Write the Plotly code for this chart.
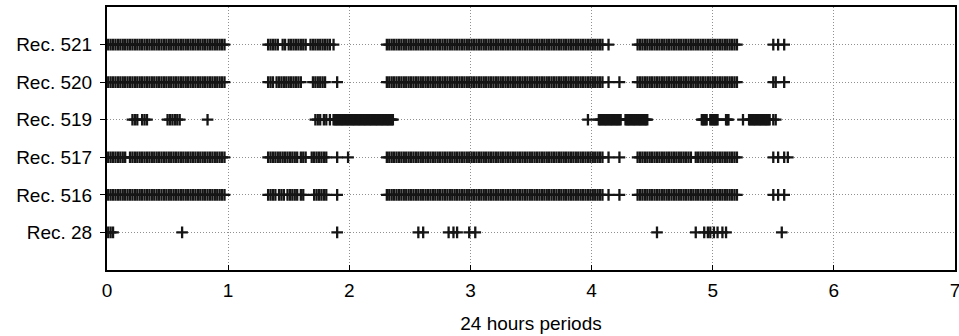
import plotly.graph_objects as go

# ---- categories (bottom to top) ----
rec_labels = ["Rec. 28", "Rec. 516", "Rec. 517", "Rec. 519", "Rec. 520", "Rec. 521"]
x_ticks = [0, 1, 2, 3, 4, 5, 6, 7]

# ---- dense activity blocks (shared by channels 516/520/521) ----
block_day0 = [0.01, 0.03, 0.05, 0.07, 0.09, 0.11, 0.13, 0.15, 0.17, 0.19, 0.21, 0.23, 0.25, 0.27,
              0.29, 0.31, 0.33, 0.35, 0.37, 0.39, 0.41, 0.43, 0.45, 0.47, 0.49, 0.51, 0.53, 0.55,
              0.57, 0.59, 0.61, 0.63, 0.65, 0.67, 0.69, 0.71, 0.73, 0.75, 0.77, 0.79, 0.81, 0.83,
              0.85, 0.87, 0.89, 0.91, 0.93, 0.95, 0.97]
block_day2 = [2.31, 2.33, 2.35, 2.37, 2.39, 2.41, 2.43, 2.45, 2.47, 2.49, 2.51, 2.53, 2.55, 2.57,
              2.59, 2.61, 2.63, 2.65, 2.67, 2.69, 2.71, 2.73, 2.75, 2.77, 2.79, 2.81, 2.83, 2.85,
              2.87, 2.89, 2.91, 2.93, 2.95, 2.97, 2.99, 3.01, 3.03, 3.05, 3.07, 3.09, 3.11, 3.13,
              3.15, 3.17, 3.19, 3.21, 3.23, 3.25, 3.27, 3.29, 3.31, 3.33, 3.35, 3.37, 3.39, 3.41,
              3.43, 3.45, 3.47, 3.49, 3.51, 3.53, 3.55, 3.57, 3.59, 3.61, 3.63, 3.65, 3.67, 3.69,
              3.71, 3.73, 3.75, 3.77, 3.79, 3.81, 3.83, 3.85, 3.87, 3.89, 3.91, 3.93, 3.95, 3.97,
              3.99, 4.01, 4.03, 4.05, 4.07, 4.09]
block_day4 = [4.38, 4.40, 4.42, 4.44, 4.46, 4.48, 4.50, 4.52, 4.54, 4.56, 4.58, 4.60, 4.62, 4.64,
              4.66, 4.68, 4.70, 4.72, 4.74, 4.76, 4.78, 4.80, 4.82, 4.84, 4.86, 4.88, 4.90, 4.92,
              4.94, 4.96, 4.98, 5.00, 5.02, 5.04, 5.06, 5.08, 5.10, 5.12, 5.14, 5.16, 5.18, 5.20]

# ---- per-record event times (24 h periods) ----
rec521_extra = [1.33, 1.35, 1.37, 1.39, 1.41, 1.45, 1.47, 1.50, 1.52, 1.54, 1.56, 1.58, 1.60, 1.62,
                1.64, 1.68, 1.70, 1.72, 1.74, 1.76, 1.78, 1.80, 1.82, 1.84, 1.87,
                4.14, 5.50, 5.54, 5.59]
rec520_extra = [1.33, 1.35, 1.37, 1.40, 1.42, 1.44, 1.46, 1.48, 1.50, 1.52, 1.54, 1.56, 1.58, 1.60,
                1.70, 1.72, 1.74, 1.76, 1.78, 1.80, 1.90,
                4.14, 4.23, 5.50, 5.52, 5.59]
rec519 = [0.21, 0.23, 0.25, 0.29, 0.31, 0.33, 0.50, 0.52, 0.54, 0.56, 0.58, 0.60, 0.83,
          1.72, 1.74, 1.76, 1.79, 1.81, 1.84,
          1.87, 1.88, 1.89, 1.90, 1.91, 1.92, 1.93, 1.94, 1.95, 1.96, 1.97, 1.98, 1.99, 2.00,
          2.01, 2.02, 2.03, 2.04, 2.05, 2.06, 2.07, 2.08, 2.09, 2.10, 2.11, 2.12, 2.13, 2.14,
          2.15, 2.16, 2.17, 2.18, 2.19, 2.20, 2.21, 2.22, 2.23, 2.24, 2.25, 2.26, 2.27, 2.28,
          2.29, 2.30, 2.31, 2.32, 2.33, 2.34, 2.35, 2.36,
          3.97,
          4.06, 4.07, 4.08, 4.09, 4.10, 4.11, 4.12, 4.13, 4.14, 4.15, 4.16, 4.17, 4.18, 4.19,
          4.20, 4.21, 4.22, 4.23, 4.24,
          4.28, 4.29, 4.30, 4.31, 4.32, 4.33, 4.34, 4.35, 4.36, 4.37, 4.38, 4.39, 4.40, 4.41,
          4.42, 4.43, 4.44, 4.45, 4.46,
          4.91, 4.92, 4.93, 4.94, 4.95, 4.98, 4.99, 5.00, 5.01, 5.02, 5.03, 5.04,
          5.11, 5.12, 5.13, 5.25,
          5.30, 5.31, 5.32, 5.33, 5.34, 5.35, 5.36, 5.37, 5.38, 5.39, 5.40, 5.41, 5.42, 5.43,
          5.44, 5.45, 5.46, 5.47, 5.50, 5.52]
rec517 = [0.01, 0.03, 0.05, 0.07, 0.09, 0.11, 0.13, 0.15, 0.19, 0.21, 0.23, 0.25, 0.27, 0.29,
          0.31, 0.33, 0.35, 0.37, 0.39, 0.41, 0.43, 0.45, 0.47, 0.49, 0.51, 0.53, 0.55, 0.57,
          0.59, 0.61, 0.63, 0.65, 0.67, 0.69, 0.71, 0.73, 0.75, 0.77, 0.79, 0.81, 0.83, 0.85,
          0.87, 0.89, 0.91, 0.93, 0.95, 0.97,
          1.33, 1.35, 1.37, 1.39, 1.41, 1.43, 1.45, 1.47, 1.49, 1.51, 1.53, 1.55, 1.57, 1.60,
          1.62, 1.64, 1.69, 1.71, 1.73, 1.75, 1.77, 1.79, 1.81, 1.90, 1.99,
          4.14, 4.23,
          4.38, 4.40, 4.42, 4.44, 4.46, 4.48, 4.50, 4.52, 4.54, 4.56, 4.58, 4.60, 4.62, 4.64,
          4.66, 4.68, 4.70, 4.72, 4.74, 4.76, 4.78, 4.80, 4.82, 4.86, 4.88, 4.90, 4.92, 4.94,
          4.96, 4.98, 5.00, 5.02, 5.04, 5.06, 5.08, 5.10, 5.12, 5.14, 5.16, 5.18, 5.20,
          5.50, 5.54, 5.59, 5.62]
rec516_extra = [1.33, 1.35, 1.37, 1.39, 1.42, 1.44, 1.46, 1.49, 1.51, 1.53, 1.55, 1.57, 1.60, 1.62,
                1.71, 1.73, 1.75, 1.77, 1.79, 1.81, 1.90,
                4.14, 4.23, 5.50, 5.54, 5.59]
rec28 = [0.01, 0.03, 0.05, 0.62, 1.90, 2.57, 2.61, 2.82, 2.86, 2.89, 2.99, 3.04, 4.54,
         4.86, 4.93, 4.96, 4.98, 5.01, 5.04, 5.08, 5.11, 5.57]

rows = [
    rec28,
    block_day0 + rec516_extra + block_day2 + block_day4,
    rec517 + block_day2,
    rec519,
    block_day0 + rec520_extra + block_day2 + block_day4,
    block_day0 + rec521_extra + block_day2 + block_day4,
]

FONT = "Liberation Sans, Arial, sans-serif"

fig = go.Figure()
for k, xs in enumerate(rows):
    fig.add_trace(go.Scatter(
        x=xs, y=[k] * len(xs), mode="markers", name=rec_labels[k],
        marker=dict(symbol="cross-thin", size=8.3, color="black",
                    line=dict(color="#151515", width=2.3)),
        showlegend=False, hoverinfo="x+name",
    ))

fig.update_layout(
    width=959, height=336,
    margin=dict(l=107, r=4, t=7, b=66),
    paper_bgcolor="white", plot_bgcolor="white",
    font=dict(family=FONT, color="black"),
)
fig.update_xaxes(
    range=[0, 7], tickvals=x_ticks, ticktext=[str(v) for v in x_ticks],
    ticks="inside", ticklen=5, tickcolor="black", tickwidth=1,
    showgrid=True, gridcolor="#909090", griddash="1px,2px", gridwidth=1,
    showline=True, linecolor="black", linewidth=2, mirror=True,
    zeroline=False, tickfont=dict(size=19, family=FONT),
    ticklabelstandoff=2, ticklabeloverflow="allow", automargin=False,
    title=dict(text="24 hours periods", font=dict(size=19, family=FONT), standoff=17),
)
fig.update_yaxes(
    range=[-1, 6], tickvals=list(range(len(rec_labels))), ticktext=rec_labels,
    ticks="outside", ticklen=5, tickcolor="black", tickwidth=1,
    showgrid=True, gridcolor="#909090", griddash="1px,2px", gridwidth=1,
    showline=True, linecolor="black", linewidth=2, mirror=True,
    zeroline=False, tickfont=dict(size=19, family=FONT), automargin=False,
    ticklabelstandoff=4,
)

fig.write_html("out.html", config={"displayModeBar": False})

# remove the browser's default page margin so the figure sits at the window's corner
with open("out.html", encoding="utf-8") as fh:
    html = fh.read()
html = html.replace("<head>", "<head><style>html,body{margin:0;padding:0;overflow:hidden;}</style>", 1)
with open("out.html", "w", encoding="utf-8") as fh:
    fh.write(html)
